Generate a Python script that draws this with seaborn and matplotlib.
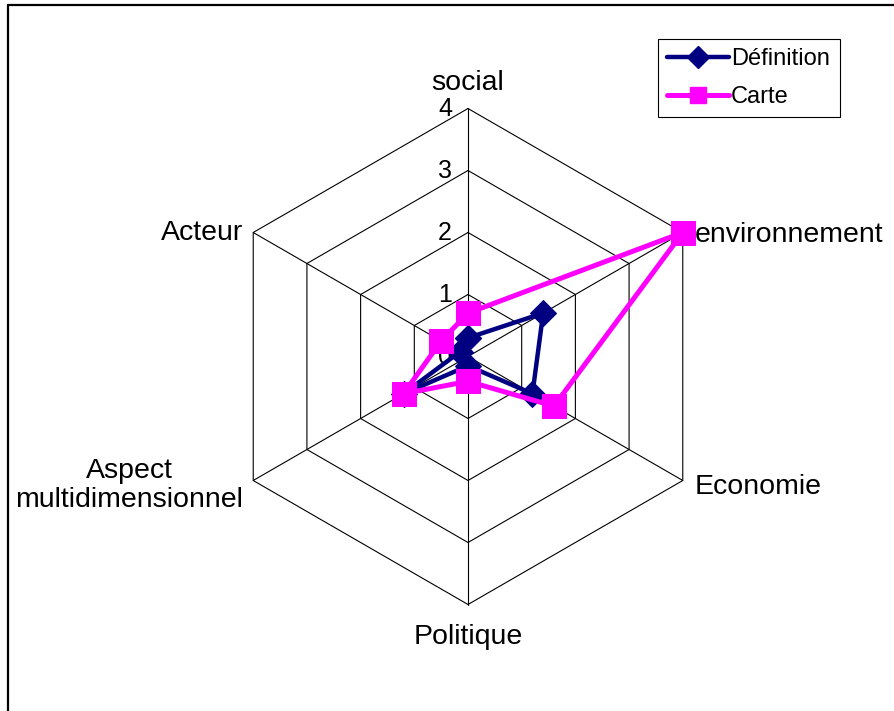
import numpy as np
import matplotlib
matplotlib.use("Agg")
import matplotlib.pyplot as plt
import seaborn as sns
from matplotlib.lines import Line2D

# axes of the radar, clockwise from the top
categories = ["social", "environnement", "Economie", "Politique",
              "Aspect\nmultidimensionnel", "Acteur"]
definition = [0.3, 1.4, 1.2, 0.15, 1.2, 0.15]
carte = [0.7, 4.0, 1.6, 0.4, 1.2, 0.5]
ticks = [0, 1, 2, 3, 4]

sns.set_style("white")
plt.rcParams["font.family"] = ["Liberation Sans", "DejaVu Sans"]
plt.rcParams["text.color"] = "black"

W, H = 894, 711
PX = 62.0                 # pixels per unit of value
CX, CY = 468.0, 356.5     # centre of the radar in pixels

fig = plt.figure(figsize=(W / 100, H / 100), dpi=100)
ax = fig.add_axes([0, 0, 1, 1])
ax.set_xlim(-CX / PX, (W - CX) / PX)
ax.set_ylim(-(H - CY) / PX, CY / PX)
ax.axis("off")

n = len(categories)
theta = np.deg2rad(90 - 360 / n * np.arange(n))
cos_t, sin_t = np.cos(theta), np.sin(theta)

# hexagonal grid and spokes
rmax = max(ticks)
for r in ticks[1:]:
    ax.plot(np.append(r * cos_t, r * cos_t[0]), np.append(r * sin_t, r * sin_t[0]),
            color="black", lw=0.8, zorder=1)
for c, s in zip(cos_t, sin_t):
    ax.plot([0, rmax * c], [0, rmax * s], color="black", lw=0.8, zorder=1)

# tick labels along the top spoke
for t in ticks:
    ax.text(-16 / PX, t, str(t), ha="right", va="center", fontsize=18)

# category labels
fs = 20.5
for lab, c, s in zip(categories, cos_t, sin_t):
    x, y = rmax * c, rmax * s
    if abs(c) < 1e-6:
        if s > 0:
            ax.text(x, y + 12 / PX, lab, ha="center", va="bottom", fontsize=fs)
        else:
            ax.text(x, y - 20 / PX, lab, ha="center", va="top", fontsize=fs)
    elif c > 0:
        ax.text(x + 12 / PX, y - (3 if s > 0 else 7) / PX, lab,
                ha="left", va="center", fontsize=fs)
    else:
        ax.text(x - 10 / PX, y - (0 if s > 0 else 5) / PX, lab,
                ha="right", va="center", fontsize=fs, multialignment="center",
                linespacing=1.15)

# series
def closed(vals):
    v = np.array(vals + vals[:1])
    return v * np.append(cos_t, cos_t[0]), v * np.append(sin_t, sin_t[0])

xd, yd = closed(definition)
xc, yc = closed(carte)
sns.lineplot(x=xd, y=yd, sort=False, estimator=None, color="#000080", lw=3.2,
             marker="D", markersize=13, markeredgecolor="#000080", ax=ax,
             zorder=3, legend=False)
sns.lineplot(x=xc, y=yc, sort=False, estimator=None, color="#FF00FF", lw=3.6,
             marker="s", markersize=17, markeredgecolor="#FF00FF", ax=ax,
             zorder=4, legend=False)

handles = [
    Line2D([], [], color="#000080", lw=3.2, marker="D", markersize=11),
    Line2D([], [], color="#FF00FF", lw=3.6, marker="s", markersize=12),
]
leg = fig.legend(handles, ["Définition", "Carte"], loc="upper left",
                 bbox_to_anchor=(658 / W, 1 - 39 / H), bbox_transform=fig.transFigure,
                 borderaxespad=0, frameon=True, fancybox=False, edgecolor="black",
                 fontsize=17, handlelength=2.6, handletextpad=0.1,
                 labelspacing=0.65, borderpad=0.4, framealpha=1)
leg.get_frame().set_linewidth(0.8)

# outer frame (left and top edges)
fig.add_artist(Line2D([8 / W, 8 / W], [0, 1 - 5 / H], color="black", lw=1.6,
                      transform=fig.transFigure))
fig.add_artist(Line2D([8 / W, 1], [1 - 5 / H, 1 - 5 / H], color="black", lw=1.6,
                      transform=fig.transFigure))

fig.savefig("out.png", dpi=100)
